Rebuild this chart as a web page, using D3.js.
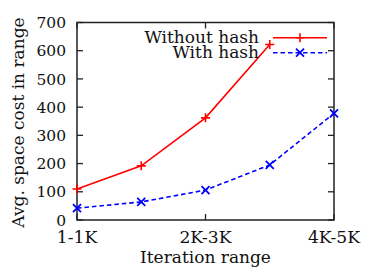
<!DOCTYPE html>
<html>
<head>
<meta charset="utf-8">
<script src="https://cdnjs.cloudflare.com/ajax/libs/d3/7.8.5/d3.min.js"></script>
<style>
  body { margin: 0; background: #fff; }
  text { font-family: "DejaVu Serif", "Liberation Serif", serif; fill: #111; }
</style>
</head>
<body>
<div id="chart-area"></div>
<script>
// data
var categories = ["1-1K", "", "2K-3K", "", "4K-5K"];
var withoutHash = [110, 192, 362, 622];
var withHash = [42, 64, 106, 195, 378];
var yTicks = [0, 100, 200, 300, 400, 500, 600, 700];

var margins = { left: 77, right: 40, top: 22.5, bottom: 52 };
var width = 374 - margins.left - margins.right;
var height = 272 - margins.top - margins.bottom;

var svg = d3.select("#chart-area")
    .append("svg")
    .attr("width", 374)
    .attr("height", 272);

var g = svg.append("g")
    .attr("transform", "translate(" + margins.left + ", " + margins.top + ")");

var x = d3.scalePoint()
    .domain(d3.range(categories.length))
    .range([0, width]);

var y = d3.scaleLinear()
    .domain([0, 700])
    .range([height, 0]);

var tickLen = 6;

// y ticks, mirrored on both sides, pointing inward
yTicks.forEach(function(t){
    g.append("line").attr("x1", 0).attr("x2", tickLen)
        .attr("y1", y(t)).attr("y2", y(t))
        .attr("stroke", "#222").attr("stroke-width", 1.3);
    g.append("line").attr("x1", width - tickLen).attr("x2", width)
        .attr("y1", y(t)).attr("y2", y(t))
        .attr("stroke", "#222").attr("stroke-width", 1.3);
    g.append("text")
        .attr("x", -11)
        .attr("y", y(t))
        .attr("dy", "0.36em")
        .attr("text-anchor", "end")
        .attr("font-size", "15.5px")
        .text(t);
});

// x ticks only on labelled categories
categories.forEach(function(c, i){
    if (!c) return;
    g.append("line").attr("x1", x(i)).attr("x2", x(i))
        .attr("y1", height).attr("y2", height - tickLen)
        .attr("stroke", "#222").attr("stroke-width", 1.3);
    g.append("line").attr("x1", x(i)).attr("x2", x(i))
        .attr("y1", 0).attr("y2", tickLen)
        .attr("stroke", "#222").attr("stroke-width", 1.3);
    g.append("text")
        .attr("x", x(i))
        .attr("y", height + 23)
        .attr("text-anchor", "middle")
        .attr("font-size", "17.2px")
        .text(c);
});

// frame
g.append("rect")
    .attr("x", 0).attr("y", 0)
    .attr("width", width).attr("height", height)
    .attr("fill", "none")
    .attr("stroke", "#222")
    .attr("stroke-width", 1.5);

// axis labels
g.append("text")
    .attr("x", width / 2)
    .attr("y", height + 43)
    .attr("text-anchor", "middle")
    .attr("font-size", "17px")
    .text("Iteration range");

g.append("text")
    .attr("transform", "rotate(-90)")
    .attr("x", -100)
    .attr("y", -53)
    .attr("text-anchor", "middle")
    .attr("font-size", "17px")
    .text("Avg. space cost in range");

var line = d3.line()
    .x(function(d, i){ return x(i); })
    .y(function(d){ return y(d); });

function plus(sel, cx, cy, col){
    var s = 4.5;
    sel.append("path")
        .attr("d", "M" + (cx - s) + "," + cy + "H" + (cx + s) + "M" + cx + "," + (cy - s) + "V" + (cy + s))
        .attr("stroke", col).attr("stroke-width", 1.6).attr("fill", "none");
}
function cross(sel, cx, cy, col){
    var s = 4;
    sel.append("path")
        .attr("d", "M" + (cx - s) + "," + (cy - s) + "L" + (cx + s) + "," + (cy + s) +
                   "M" + (cx - s) + "," + (cy + s) + "L" + (cx + s) + "," + (cy - s))
        .attr("stroke", col).attr("stroke-width", 1.8).attr("fill", "none");
}

// series
g.append("path")
    .datum(withoutHash)
    .attr("d", line)
    .attr("fill", "none")
    .attr("stroke", "#ff0000")
    .attr("stroke-width", 1.6);
withoutHash.forEach(function(d, i){ plus(g, x(i), y(d), "#ff0000"); });

g.append("path")
    .datum(withHash)
    .attr("d", line)
    .attr("fill", "none")
    .attr("stroke", "#0000ff")
    .attr("stroke-width", 1.6)
    .attr("stroke-dasharray", "4.5,3");
withHash.forEach(function(d, i){ cross(g, x(i), y(d), "#0000ff"); });

// legend
var legend = [
    { name: "Without hash", col: "#ff0000", dash: null, mark: plus },
    { name: "With hash", col: "#0000ff", dash: "4.5,3", mark: cross }
];
legend.forEach(function(l, i){
    var ly = 15.2 + i * 15;
    g.append("text")
        .attr("x", 182)
        .attr("y", ly + 4.8)
        .attr("text-anchor", "end")
        .attr("font-size", "17px")
        .text(l.name);
    g.append("line")
        .attr("x1", 196).attr("x2", 250)
        .attr("y1", ly).attr("y2", ly)
        .attr("stroke", l.col).attr("stroke-width", 1.6)
        .attr("stroke-dasharray", l.dash);
    l.mark(g, 223, ly, l.col);
});
</script>
</body>
</html>
